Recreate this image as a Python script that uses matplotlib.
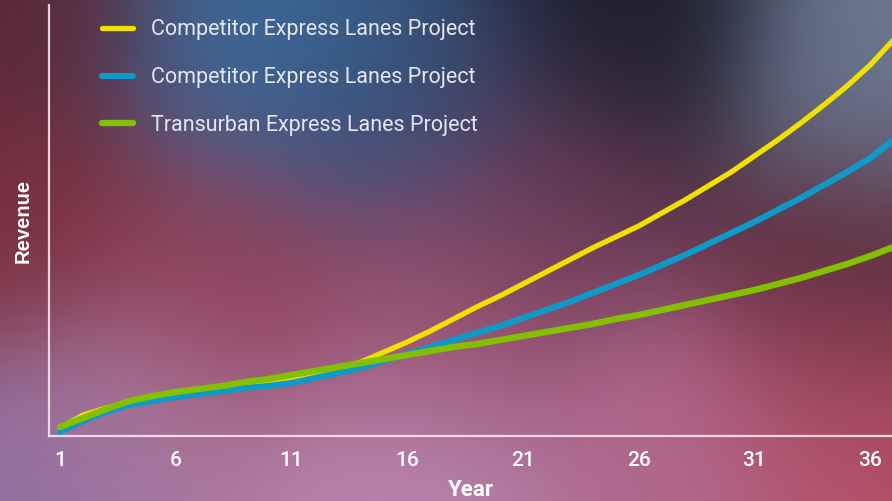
import numpy as np
import matplotlib.pyplot as plt
from matplotlib.colors import to_rgb

# Data (revenue in arbitrary units)
years = list(range(1, 38))
yellow = [8, 21, 28, 34, 38, 42, 45, 48, 51, 54, 58, 62, 67, 74, 84, 94, 105, 117,
          129, 140, 152, 164, 176, 188, 199, 210, 223, 236, 250, 264, 280, 296, 313,
          331, 350, 371, 396]
blue = [4, 15, 24, 31, 35, 39, 42, 45, 48, 50, 53, 58, 63, 68, 75, 82, 89, 96,
        103, 110, 118, 126, 134, 143, 152, 161, 171, 181, 192, 203, 214, 226, 238,
        251, 264, 278, 296]
green = [9, 18, 27, 35, 40, 44, 47, 50, 54, 57, 61, 65, 69, 73, 77, 81, 85, 89,
         92, 96, 100, 104, 108, 112, 117, 121, 126, 131, 136, 141, 146, 152, 158,
         165, 172, 180, 189]
labels = ['Competitor Express Lanes Project', 'Competitor Express Lanes Project',
          'Transurban Express Lanes Project']
tick_years = [1, 6, 11, 16, 21, 26, 31, 36]

fig = plt.figure(figsize=(8.92, 5.01), dpi=100)

# blurred colourful background
bg = fig.add_axes([0, 0, 1, 1])
blobs = [
    (0.02, 0.02, '#5a2838'), (0.28, 0.08, '#3d6a9a'), (0.45, 0.18, '#33507a'),
    (0.70, 0.06, '#1c1d2c'), (0.98, 0.15, '#6a7890'), (0.95, 0.55, '#5a2a3a'),
    (0.02, 0.45, '#7a3040'), (0.25, 0.55, '#8e4058'), (0.50, 0.62, '#9a5070'),
    (0.15, 0.85, '#b07aa0'), (0.45, 0.95, '#b886b0'), (0.75, 0.90, '#b06a90'),
    (0.95, 0.85, '#b85068'), (0.62, 0.40, '#6a3a55'), (0.02, 0.98, '#8a70a0'),
]
h, w = 120, 214
yy, xx = np.mgrid[0:1:h * 1j, 0:1:w * 1j]
num = np.zeros((h, w, 3))
den = np.zeros((h, w))
for bx, by, c in blobs:
    wgt = np.exp(-(((xx - bx) * 1.78) ** 2 + (yy - by) ** 2) / (2 * 0.18 ** 2))
    num += wgt[..., None] * np.array(to_rgb(c))
    den += wgt
img = num / den[..., None]
bg.imshow(img, aspect='auto', extent=[0, 1, 0, 1], origin='upper', interpolation='bicubic')
bg.set_axis_off()

ax = fig.add_axes([49 / 892, 65 / 501, 843 / 892, 431 / 501])
ax.patch.set_alpha(0)
ax.plot(years, yellow, color='#f2e000', lw=3.8, label=labels[0], solid_capstyle='round')
ax.plot(years, blue, color='#0e9ac8', lw=4.4, label=labels[1], solid_capstyle='round')
ax.plot(years, green, color='#82c000', lw=4.6, label=labels[2], solid_capstyle='round')

ax.set_xlim(0.525, 36.94)
ax.set_ylim(0, 431)
for s in ['top', 'right']:
    ax.spines[s].set_visible(False)
for s in ['left', 'bottom']:
    ax.spines[s].set_color('#f4e6ee')
    ax.spines[s].set_alpha(0.9)
    ax.spines[s].set_linewidth(1.6)
ax.set_yticks([])
ax.set_xticks(tick_years)
ax.tick_params(axis='x', length=0, pad=11, labelcolor='white', labelsize=15)
for t in ax.get_xticklabels():
    t.set_fontfamily('Roboto')
    t.set_fontweight('medium')

ax.set_xlabel('Year', color='white', fontsize=16, fontweight='bold', labelpad=6,
              family='Roboto')
ax.set_ylabel('Revenue', color='white', fontsize=14.5, fontweight='bold', labelpad=12,
              family='Liberation Sans')

leg = ax.legend(loc='upper left', bbox_to_anchor=(0.04, 1.012), frameon=False,
                handlelength=1.45, handletextpad=0.8, labelspacing=1.25,
                prop={'family': 'Roboto', 'size': 15.5})
for t in leg.get_texts():
    t.set_color('#e6e6ee')

fig.savefig('out.png', dpi=100)
